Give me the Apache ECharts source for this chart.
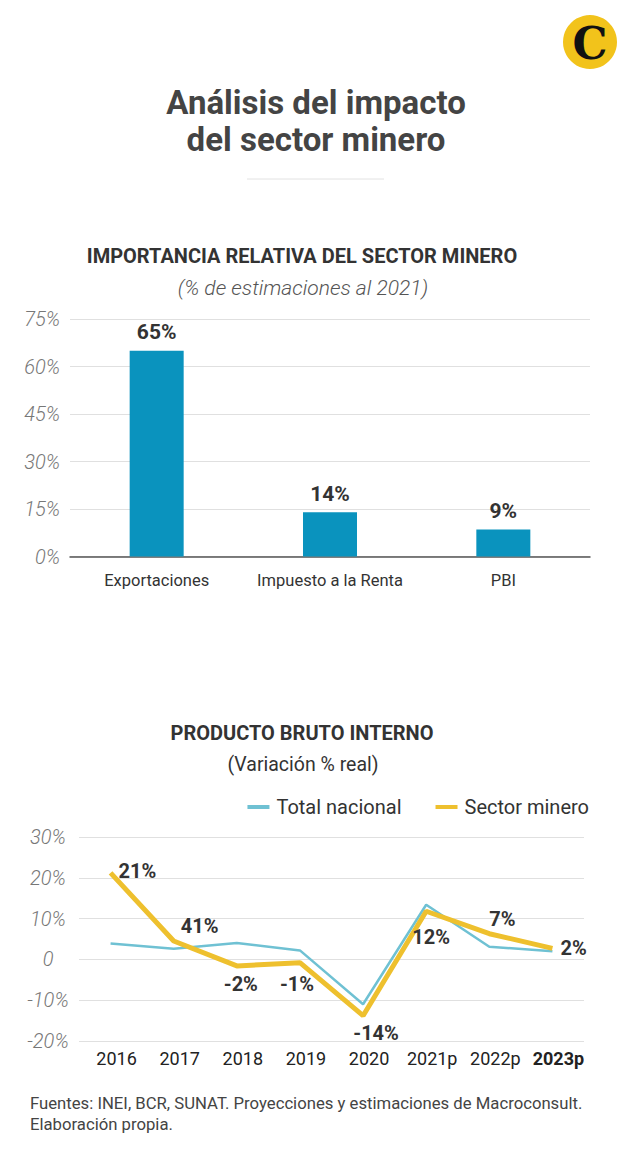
<!DOCTYPE html>
<html>
<head>
<meta charset="utf-8">
<script src="https://cdn.jsdelivr.net/npm/echarts@6/dist/echarts.min.js"></script>
<style>
html,body{margin:0;padding:0;background:#fff;}
#c{width:620px;height:1154px;}
</style>
</head>
<body>
<div id="c"></div>
<script>
// ---- Data ----
const barCategories = ['Exportaciones', 'Impuesto a la Renta', 'PBI'];
const barValues = [65, 14, 8.5];
const barLabels = ['65%', '14%', '9%'];
const barTicks = [0, 15, 30, 45, 60, 75];

const years = ['2016', '2017', '2018', '2019', '2020', '2021p', '2022p', '2023p'];
const totalNacional = [3.9, 2.6, 4.0, 2.2, -11.0, 13.4, 3.1, 2.0];
const sectorMinero = [21.2, 4.5, -1.6, -0.8, -13.8, 11.8, 6.3, 2.7];
const mineroLabels = ['21%', '41%', '-2%', '-1%', '-14%', '12%', '7%', '2%'];
const lineTicks = [-20, -10, 0, 10, 20, 30];

// ---- Styles ----
const SANS = 'Roboto, "Noto Sans", sans-serif';
const BLUE_BAR = '#0a93be';
const YELLOW = '#eec02e';
const LIGHTBLUE = '#6fc1d3';

const labelPlacement = [
  {position: 'right', distance: 8, offset: [0, -2]},
  {position: 'right', distance: 7, offset: [0, -15]},
  {position: 'bottom', distance: 8, offset: [4, 0]},
  {position: 'bottom', distance: 11, offset: [-3, 0]},
  {position: 'bottom', distance: 7, offset: [13, 0]},
  {position: 'bottom', distance: 16, offset: [5, 0]},
  {position: 'top', distance: 5, offset: [13, 0]},
  {position: 'right', distance: 8, offset: [0, 0]}
];

const chart = echarts.init(document.getElementById('c'), null, {renderer: 'svg'});

const option = {
  backgroundColor: '#fff',
  animation: false,
  graphic: [
    {type: 'circle', shape: {cx: 590, cy: 42, r: 27}, style: {fill: '#f2c31b'}},
    {type: 'text', x: 590, y: 43, style: {text: 'C', font: 'bold 44px "DejaVu Serif", serif', fill: '#111', align: 'center', verticalAlign: 'middle'}},
    {type: 'text', x: 316, y: 121, style: {text: 'Análisis del impacto\ndel sector minero', font: 'bold 33px ' + SANS, fill: '#444', align: 'center', verticalAlign: 'middle', lineHeight: 37}},
    {type: 'line', shape: {x1: 247, y1: 179, x2: 384, y2: 179}, style: {stroke: '#e2e2e2', lineWidth: 1}},
    {type: 'text', x: 302, y: 256, style: {text: 'IMPORTANCIA RELATIVA DEL SECTOR MINERO', font: 'bold 20px ' + SANS, fill: '#333', align: 'center', verticalAlign: 'middle'}},
    {type: 'text', x: 303, y: 288, style: {text: '(% de estimaciones al 2021)', font: 'italic 300 21px ' + SANS, fill: '#555', align: 'center', verticalAlign: 'middle'}},
    {type: 'text', x: 302, y: 733, style: {text: 'PRODUCTO BRUTO INTERNO', font: 'bold 20px ' + SANS, fill: '#333', align: 'center', verticalAlign: 'middle'}},
    {type: 'text', x: 303, y: 764, style: {text: '(Variación % real)', font: '19.5px ' + SANS, fill: '#333', align: 'center', verticalAlign: 'middle'}},
    {type: 'text', x: 30, y: 1114, style: {text: 'Fuentes: INEI, BCR, SUNAT. Proyecciones y estimaciones de Macroconsult.\nElaboración propia.', font: '16.7px ' + SANS, fill: '#444', align: 'left', verticalAlign: 'middle', lineHeight: 21}}
  ],
  legend: {
    right: 26, top: 792,
    itemWidth: 22, itemHeight: 4, itemGap: 34,
    icon: 'rect',
    textStyle: {fontFamily: SANS, fontSize: 20, color: '#333', padding: [0, 0, 0, 2]},
    data: ['Total nacional', 'Sector minero']
  },
  grid: [
    {left: 70, width: 520, top: 319, height: 237.5},
    {left: 79, width: 505, top: 837, height: 204}
  ],
  xAxis: [
    {
      gridIndex: 0, type: 'category', data: barCategories,
      axisLine: {lineStyle: {color: '#555', width: 1.5}},
      axisTick: {show: false},
      axisLabel: {interval: 0, fontFamily: SANS, fontSize: 16.5, color: '#333', margin: 15}
    },
    {
      gridIndex: 1, type: 'category', data: years, boundaryGap: true,
      axisLine: {show: false}, axisTick: {show: false},
      axisLabel: {
        interval: 0, fontFamily: SANS, fontSize: 18, fontWeight: 'normal', color: '#222', margin: 8,
        padding: [0, 0, 0, 12],
        formatter: function (v, i) { return i === years.length - 1 ? '{b|' + v + '}' : v; },
        rich: {b: {fontFamily: SANS, fontSize: 18, fontWeight: 'bold', color: '#222'}}
      }
    }
  ],
  yAxis: [
    {
      gridIndex: 0, type: 'value', min: barTicks[0], max: barTicks[barTicks.length - 1], interval: 15,
      axisLine: {show: false}, axisTick: {show: false},
      splitLine: {lineStyle: {color: '#e0e0e0', width: 1}},
      axisLabel: {fontFamily: SANS, fontStyle: 'italic', fontWeight: 300, fontSize: 20, color: '#777', margin: 10,
        formatter: function (v) { return v + '%'; }}
    },
    {
      gridIndex: 1, type: 'value', min: lineTicks[0], max: lineTicks[lineTicks.length - 1], interval: 10,
      axisLine: {show: false}, axisTick: {show: false},
      splitLine: {lineStyle: {color: '#e0e0e0', width: 1}},
      axisLabel: {fontFamily: SANS, fontStyle: 'italic', fontWeight: 300, fontSize: 20, color: '#777', margin: 31, align: 'center',
        formatter: function (v) { return v === 0 ? '0' : v + '%'; }}
    }
  ],
  series: [
    {
      type: 'bar', xAxisIndex: 0, yAxisIndex: 0,
      data: barValues, barWidth: 54,
      itemStyle: {color: BLUE_BAR},
      label: {show: true, position: 'top', distance: 8, fontFamily: SANS, fontWeight: 'bold', fontSize: 21, color: '#333',
        formatter: function (p) { return barLabels[p.dataIndex]; }}
    },
    {
      name: 'Total nacional', type: 'line', xAxisIndex: 1, yAxisIndex: 1,
      data: totalNacional, symbol: 'none',
      lineStyle: {color: LIGHTBLUE, width: 2.5}, itemStyle: {color: LIGHTBLUE}, z: 2
    },
    {
      name: 'Sector minero', type: 'line', xAxisIndex: 1, yAxisIndex: 1,
      data: sectorMinero.map(function (v, i) {
        return {value: v, label: Object.assign({show: true, formatter: mineroLabels[i]}, labelPlacement[i])};
      }),
      symbol: 'circle', symbolSize: 0.1, showSymbol: true,
      lineStyle: {color: YELLOW, width: 5}, itemStyle: {color: YELLOW}, z: 3,
      label: {fontFamily: SANS, fontWeight: 'bold', fontSize: 20, color: '#333'}
    }
  ]
};
chart.setOption(option);
</script>
</body>
</html>
